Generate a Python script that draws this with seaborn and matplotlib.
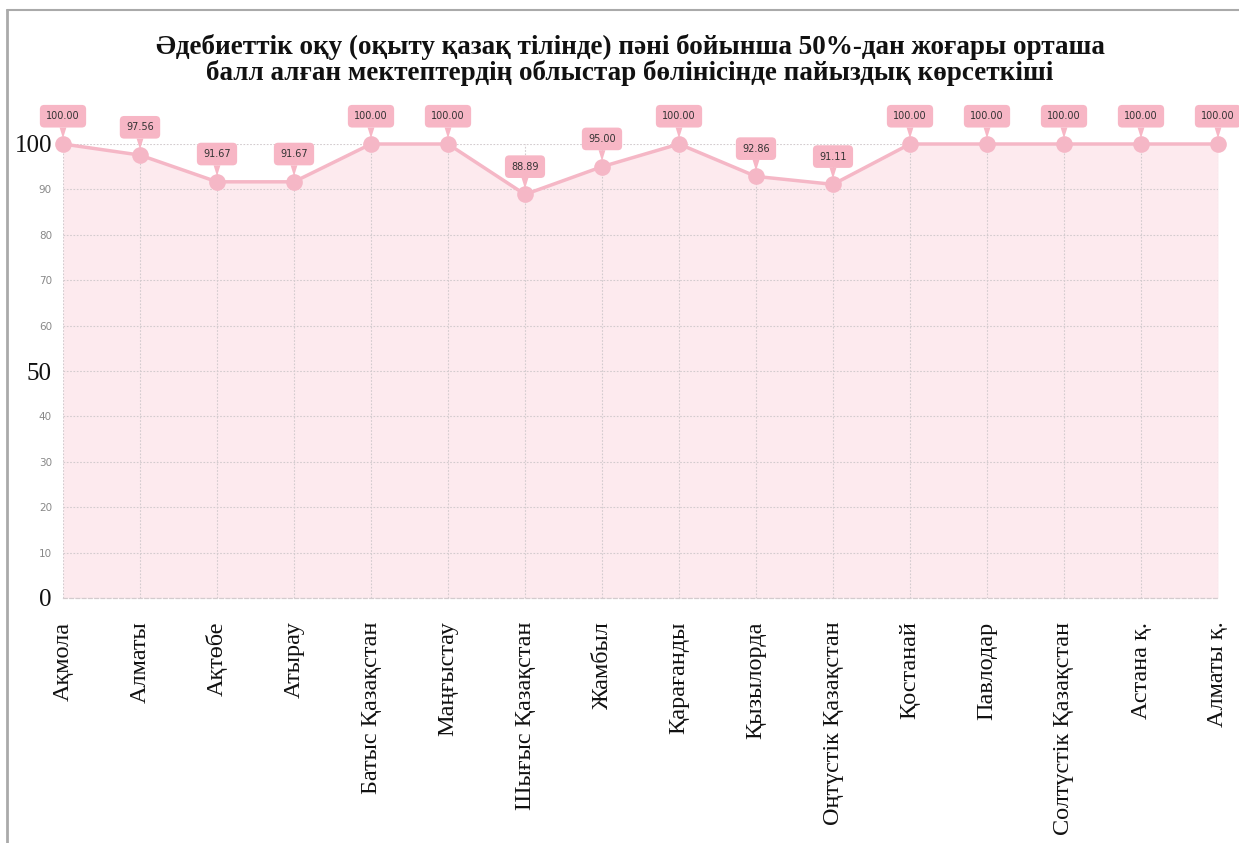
import matplotlib
matplotlib.use("Agg")
import matplotlib.pyplot as plt
import pandas as pd
import seaborn as sns
from matplotlib.lines import Line2D

regions = [
    "Ақмола", "Алматы", "Ақтөбе", "Атырау", "Батыс Қазақстан", "Маңғыстау",
    "Шығыс Қазақстан", "Жамбыл", "Қарағанды", "Қызылорда", "Оңтүстік Қазақстан",
    "Қостанай", "Павлодар", "Солтүстік Қазақстан", "Астана қ.", "Алматы қ.",
]
percent = [100.00, 97.56, 91.67, 91.67, 100.00, 100.00, 88.89, 95.00, 100.00,
           92.86, 91.11, 100.00, 100.00, 100.00, 100.00, 100.00]
y_ticks = [0, 10, 20, 30, 40, 50, 60, 70, 80, 90, 100]

title = ("Әдебиеттік оқу (оқыту қазақ тілінде) пәні бойынша 50%-дан жоғары орташа\n"
         "балл алған мектептердің облыстар бөлінісінде пайыздық көрсеткіші")

df = pd.DataFrame({"region": regions, "pct": percent})
df["pos"] = range(len(df))

LINE = "#f5b7c6"
FILL = "#fdeaee"
BOX = "#f7b6c5"
GRID = "#d3cbce"

sns.set_theme(style="white")
plt.rcParams["font.family"] = ["Liberation Serif", "DejaVu Serif"]

fig = plt.figure(figsize=(12.39, 8.43), dpi=100)
ax = fig.add_axes([63 / 1239, 1 - 598 / 843, (1218 - 63) / 1239, (598 - 144) / 843])

ax.fill_between(df["pos"], 0, df["pct"], color=FILL, zorder=1, lw=0)
sns.lineplot(data=df, x="pos", y="pct", color=LINE, lw=2.5, marker="o",
             markersize=12, markeredgewidth=0, ax=ax, zorder=3, clip_on=False)

for _, row in df.iterrows():
    ax.annotate(f"{row['pct']:.2f}", xy=(row["pos"], row["pct"]),
                xytext=(0, 20), textcoords="offset points",
                ha="center", va="center", fontsize=7, color="#333333",
                family="DejaVu Sans", zorder=5, annotation_clip=False,
                bbox=dict(boxstyle="round,pad=0.65,rounding_size=0.45",
                          fc=BOX, ec="none"),
                arrowprops=dict(arrowstyle="wedge,tail_width=0.7,shrink_factor=0.5",
                                fc=BOX, ec="none", shrinkA=0, shrinkB=4))

ax.set_xlim(0, len(regions) - 1)
ax.set_ylim(0, 100)
ax.set_xticks(df["pos"])
ax.set_xticklabels(regions, rotation=90, fontsize=17.5, color="#111111")
ax.set_yticks(y_ticks)
ax.set_yticklabels([str(t) for t in y_ticks])
for t, lab in zip(y_ticks, ax.get_yticklabels()):
    if t % 50 == 0:
        lab.set_fontsize(18)
        lab.set_color("#111111")
    else:
        lab.set_fontsize(7.5)
        lab.set_color("#888888")
        lab.set_family("DejaVu Sans")
ax.tick_params(axis="y", length=0, pad=8)
ax.tick_params(axis="x", length=0, pad=17)

ax.set_axisbelow(False)
ax.grid(True, color=GRID, lw=0.8, ls=(0, (1.5, 1.5)))
for s in ["top", "right", "left"]:
    ax.spines[s].set_visible(False)
ax.spines["bottom"].set_color(GRID)
ax.spines["bottom"].set_linestyle((0, (3, 2)))
ax.spines["bottom"].set_linewidth(0.9)
ax.set_xlabel("")
ax.set_ylabel("")

fig.text(630 / 1239, 1 - 60 / 843, title, ha="center", va="center",
         fontsize=19.5, fontweight="bold", linespacing=0.95, color="#111111")

# frame of the original screenshot
fig.add_artist(Line2D([7 / 1239, 7 / 1239], [0, 1 - 10 / 843],
                      transform=fig.transFigure, color="#aaaaaa", lw=2))
fig.add_artist(Line2D([7 / 1239, 1], [1 - 10 / 843, 1 - 10 / 843],
                      transform=fig.transFigure, color="#aaaaaa", lw=1.5))

fig.savefig("out.png", dpi=100)
